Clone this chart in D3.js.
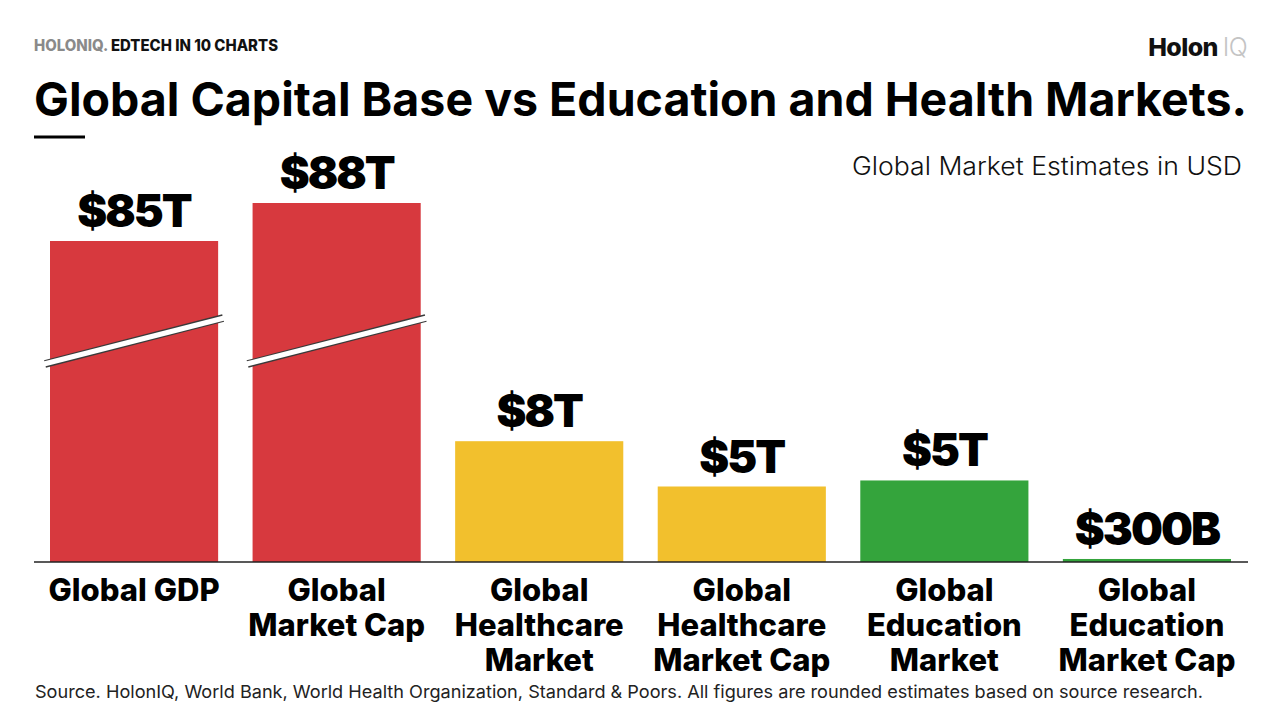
<!DOCTYPE html>
<html>
<head>
<meta charset="utf-8">
<script src="https://cdn.jsdelivr.net/npm/d3@7"></script>
<style>
  html, body { margin: 0; padding: 0; background: #fff; }
  svg { display: block; font-family: Inter, "Noto Sans", sans-serif; }
</style>
</head>
<body>
<svg id="chart" width="1280" height="717"></svg>
<script>
// ---------------------------------------------------------------
// Data (values in trillions USD, heights)
// ---------------------------------------------------------------
const categories = [
  ['Global GDP'],
  ['Global', 'Market Cap'],
  ['Global', 'Healthcare', 'Market'],
  ['Global', 'Healthcare', 'Market Cap'],
  ['Global', 'Education', 'Market'],
  ['Global', 'Education', 'Market Cap']
]
const values = [85, 88, 8, 5, 5.4, 0.2]
const valueLabels = ['$85T', '$88T', '$8T', '$5T', '$5T', '$300B']
const groups = ['capital', 'capital', 'health', 'health', 'education', 'education']
const brokenBars = [true, true, false, false, false, false]

const colors = { capital: '#d7393e', health: '#f2c02d', education: '#34a43c' }

const BASE_Y = 562
const X0 = 50, X1 = 1231

// ---------------------------------------------------------------
// Scales
// ---------------------------------------------------------------
const x = d3.scaleBand()
  .domain(d3.range(values.length))
  .range([X0, X1])
  .paddingInner(0.17)
  .paddingOuter(0)

// broken axis: linear up to 10T, compressed through the gap, then the top range
const y = d3.scaleLinear()
  .domain([0, 10, 85, 88])
  .range([BASE_Y, BASE_Y - 151, 241, 203])

const svg = d3.select('#chart')

// ---------------------------------------------------------------
// Header
// ---------------------------------------------------------------
const kicker = svg.append('text')
  .attr('x', 34).attr('y', 51)
  .attr('textLength', 244)
  .attr('lengthAdjust', 'spacingAndGlyphs')
  .style('font-size', '15.5px')
  .style('font-weight', 800)
kicker.append('tspan').attr('fill', '#8a8a8a').text('HOLONIQ. ')
kicker.append('tspan').attr('fill', '#111').text('EDTECH IN 10 CHARTS')

const logo = svg.append('text')
  .attr('x', 1247).attr('y', 56)
  .attr('text-anchor', 'end')
  .style('font-size', '25px')
  .style('letter-spacing', '-0.6px')
logo.append('tspan').attr('fill', '#111').style('font-weight', 800).text('Holon ')
logo.append('tspan').attr('fill', '#c4c4c4').style('font-weight', 300).text('IQ')

svg.append('text')
  .attr('x', 34).attr('y', 116)
  .attr('textLength', 1213)
  .attr('lengthAdjust', 'spacingAndGlyphs')
  .style('font-size', '47px')
  .style('font-weight', 700)
  .attr('fill', '#000')
  .text('Global Capital Base vs Education and Health Markets.')

svg.append('line')
  .attr('x1', 34).attr('x2', 85)
  .attr('y1', 137).attr('y2', 137)
  .attr('stroke', '#000').attr('stroke-width', 3)

svg.append('text')
  .attr('x', 852).attr('y', 175)
  .attr('textLength', 390)
  .attr('lengthAdjust', 'spacingAndGlyphs')
  .style('font-size', '25px')
  .style('font-weight', 300)
  .attr('fill', '#111')
  .text('Global Market Estimates in USD')

// ---------------------------------------------------------------
// Bars
// ---------------------------------------------------------------
svg.append('g').selectAll('rect')
  .data(values)
  .join('rect')
  .attr('x', (d, i) => x(i))
  .attr('y', d => y(d))
  .attr('width', x.bandwidth())
  .attr('height', d => BASE_Y - y(d))
  .attr('fill', (d, i) => colors[groups[i]])

// break marks across the tall bars
const breakG = svg.append('g')
values.forEach((d, i) => {
  if (!brokenBars[i]) return
  const bx0 = x(i) - 5, bx1 = x(i) + x.bandwidth() + 5
  const pts = [[bx0, 364], [bx1, 318]]
  breakG.append('line')
    .attr('x1', pts[0][0]).attr('y1', pts[0][1])
    .attr('x2', pts[1][0]).attr('y2', pts[1][1])
    .attr('stroke', '#3a3a3a').attr('stroke-width', 7.5)
  breakG.append('line')
    .attr('x1', pts[0][0] - 1).attr('y1', pts[0][1])
    .attr('x2', pts[1][0] + 1).attr('y2', pts[1][1])
    .attr('stroke', '#fff').attr('stroke-width', 5)
})

// value labels
svg.append('g').selectAll('text')
  .data(values)
  .join('text')
  .attr('x', (d, i) => x(i) + x.bandwidth() / 2)
  .attr('y', d => y(d) - 14)
  .attr('text-anchor', 'middle')
  .style('font-size', '45px')
  .style('font-weight', 900)
  .style('letter-spacing', '-2px')
  .attr('fill', '#000')
  .text((d, i) => valueLabels[i])

// baseline
svg.append('line')
  .attr('x1', 34).attr('x2', 1248)
  .attr('y1', BASE_Y).attr('y2', BASE_Y)
  .attr('stroke', '#222').attr('stroke-width', 1.5)

// category labels
const catG = svg.append('g')
categories.forEach((lines, i) => {
  const t = catG.append('text')
    .attr('text-anchor', 'middle')
    .style('font-size', '31px')
    .style('font-weight', 800)
    .style('letter-spacing', '0px')
    .attr('fill', '#000')
  lines.forEach((s, k) => {
    t.append('tspan')
      .attr('x', x(i) + x.bandwidth() / 2)
      .attr('y', 601 + k * 35)
      .text(s)
  })
})

// source
svg.append('text')
  .attr('x', 35).attr('y', 698)
  .attr('textLength', 1168)
  .attr('lengthAdjust', 'spacingAndGlyphs')
  .style('font-size', '17.5px')
  .style('font-weight', 400)
  .attr('fill', '#222')
  .text('Source. HolonIQ, World Bank, World Health Organization, Standard & Poors. All figures are rounded estimates based on source research.')
</script>
</body>
</html>
